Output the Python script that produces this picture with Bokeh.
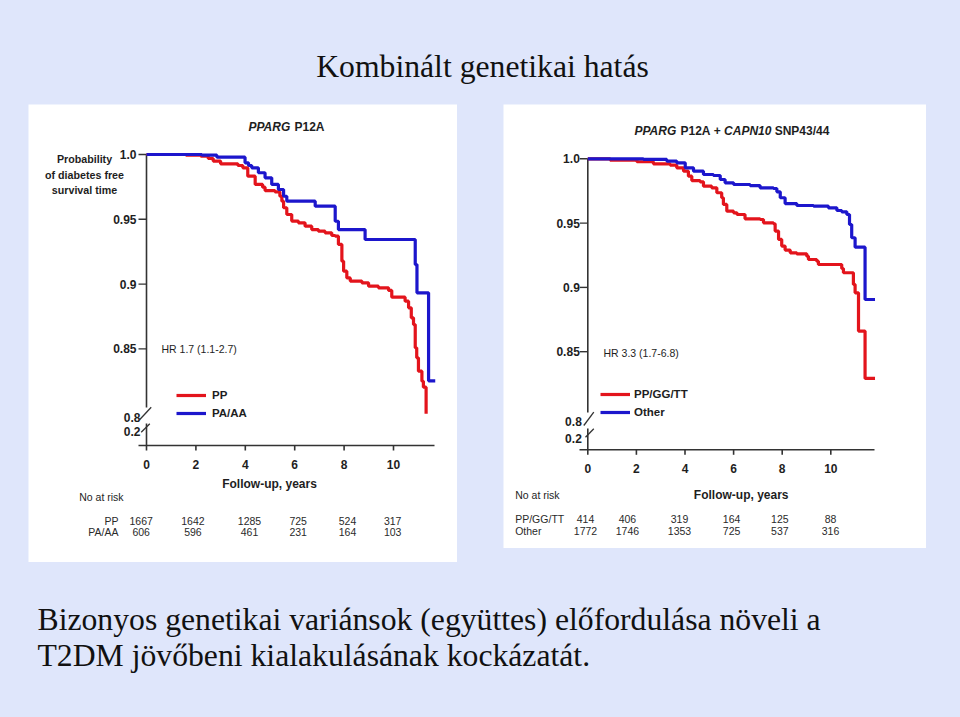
import math
from bokeh.plotting import figure
from bokeh.models import Range1d, Label, Legend, LegendItem, Spacer, ColumnDataSource
from bokeh.core.properties import value
from bokeh.layouts import column, row
from bokeh.embed import file_html
from bokeh.resources import INLINE

# ---------------- data ----------------
SLIDE_TITLE = "Kombinált genetikai hatás"
BOTTOM_LINES = ["Bizonyos genetikai variánsok (együttes) előfordulása növeli a",
                "T2DM jövőbeni kialakulásának kockázatát."]

XTICKS = [0, 2, 4, 6, 8, 10]
XTICK_LABELS = ["0", "2", "4", "6", "8", "10"]
YTICKS = [0.85, 0.9, 0.95, 1.0]
YTICK_LABELS = ["0.85", "0.9", "0.95", "1.0"]
BREAK_LABELS = ["0.8", "0.2"]
X_LABEL = "Follow-up, years"
RISK_HEADER = "No at risk"
Y_LABEL_LINES = ["Probability", "of diabetes free", "survival time"]

# Left panel: PPARG P12A
L_TITLE = [("PPARG", "bold italic"), ("P12A", "bold")]
L_HR = "HR 1.7 (1.1-2.7)"
L_GROUPS = ["PP", "PA/AA"]
L_RISK = [[1667, 1642, 1285, 725, 524, 317],
          [606, 596, 461, 231, 164, 103]]
L_PP_T = [0, 1.6, 2.2, 2.5, 2.7, 3.0, 3.7, 3.9, 4.1, 4.4, 4.7, 4.8, 5.2, 5.4, 5.48,
          5.55, 5.68, 5.88, 6.15, 6.42, 6.69, 6.96, 7.23, 7.5, 7.64, 7.77, 7.91, 7.98,
          8.11, 8.25, 8.72, 8.99, 9.39, 9.80, 9.93, 10.47, 10.61, 10.72, 10.81, 10.88,
          10.94, 11.01, 11.15, 11.21, 11.32]
L_PP_S = [1.0, .9995, .9987, .9969, .9949, .9928, .9915, .9897, .9833, .9769,
          .9748, .9722, .9712, .9678, .9640, .9589, .9537, .9486, .9473, .9447,
          .9421, .9408, .9396, .9375, .9370, .9306, .9177, .9100, .9048, .9023,
          .9010, .8984, .8971, .8951, .8899, .8868, .8817, .8740, .8688, .8508,
          .8431, .8328, .8251, .8205, .800]
L_PA_T = [0, 2.24, 2.85, 3.99, 4.13, 4.26, 4.53, 4.80, 5.07, 5.34, 5.55, 5.68, 6.83,
          7.64, 7.77, 8.85, 10.88, 10.95, 11.42, 11.69]
L_PA_S = [1.0, .9995, .9979, .9936, .9915, .9897, .9859, .9820, .9769, .9730, .9678,
          .9640, .9601, .9485, .9421, .9344, .9151, .8933, .8254, .8254]

# Right panel: PPARG P12A + CAPN10 SNP43/44
R_TITLE = [("PPARG", "bold italic"), ("P12A", "bold"), ("+", "bold"),
           ("CAPN10", "bold italic"), ("SNP43/44", "bold")]
R_HR = "HR 3.3 (1.7-6.8)"
R_GROUPS = ["PP/GG/TT", "Other"]
R_RISK = [[414, 406, 319, 164, 125, 88],
          [1772, 1746, 1353, 725, 537, 316]]
R_PG_T = [0, 0.92, 2.02, 2.70, 3.39, 3.66, 3.94, 4.14, 4.28, 4.62, 4.76, 5.10, 5.31,
          5.51, 5.58, 5.72, 6.00, 6.14, 6.47, 7.09, 7.23, 7.64, 7.71, 7.85, 7.98, 8.12,
          8.33, 8.60, 9.01, 9.08, 9.42, 9.49, 10.45, 10.52, 10.93, 11.00, 11.14, 11.41,
          11.82]
R_PG_S = [1.0, .9990, .9977, .9961, .9951, .9930, .9904, .9865, .9831, .9821, .9787,
          .9774, .9736, .9697, .9645, .9593, .9580, .9567, .9533, .9528, .9502, .9495,
          .9438, .9373, .9321, .9290, .9269, .9261, .9243, .9217, .9204, .9178, .9147,
          .9114, .9023, .8958, .8660, .8292, .8292]
R_OT_T = [0, 2.29, 3.25, 3.66, 4.01, 4.35, 4.76, 5.17, 5.45, 5.65, 6.00, 6.68, 7.09,
          7.64, 7.78, 7.92, 8.12, 8.60, 9.29, 9.90, 10.25, 10.45, 10.66, 10.77, 10.86,
          11.00, 11.41, 11.82]
R_OT_S = [1.0, .9995, .9982, .9969, .9930, .9904, .9878, .9870, .9839, .9813, .9800,
          .9792, .9774, .9769, .9743, .9697, .9652, .9637, .9632, .9619, .9598, .9588,
          .9567, .9489, .9386, .9313, .8906, .8906]

# ---------------- style ----------------
BG = "#dfe6fb"
RED = "#e3141c"
BLUE = "#1c16cc"
INK = "#1e1e1e"
AX = "#333333"
SANS = "Liberation Sans"
SERIF = "Liberation Serif"
BGS = {"background-color": BG}


def km_panel(g, curves, groups, risk, hr, title_parts, with_ylabel):
    L, T, W, H = g["box"]
    ox, ppx, oy, ppu = g["x0"], g["ppx"], g["y1"], g["ppu"]

    def X(px):
        return (px - ox) / ppx

    def Y(py):
        return 1.0 - (py - oy) / ppu

    p = figure(width=W, height=H, x_range=Range1d(X(L), X(L + W)),
               y_range=Range1d(Y(T + H), Y(T)), output_backend="svg",
               toolbar_location=None, x_axis_location=None, y_axis_location=None,
               min_border=0)
    p.background_fill_color = "white"
    p.border_fill_color = "white"
    p.outline_line_color = None
    p.grid.visible = False

    def lab(px, py, text, size, style="normal", align="left", color=INK):
        p.add_layout(Label(x=px - L, y=T + H - py, x_units="screen", y_units="screen",
                           text=text, text_font=SANS, text_font_size=size,
                           text_font_style=style, text_align=align,
                           text_baseline="middle", text_color=color))

    ay = Y(g["axis_y"])
    # x axis line, ticks and labels
    p.segment(x0=[X(g["xaxis_from"])], y0=[ay], x1=[X(g["xaxis_to"])], y1=[ay],
              line_color=AX, line_width=1.6)
    p.segment(x0=XTICKS, y0=[ay] * len(XTICKS), x1=XTICKS,
              y1=[ay - 5 / ppu] * len(XTICKS), line_color=AX, line_width=1.6)
    p.text(x=XTICKS, y=[ay] * len(XTICKS), text=XTICK_LABELS, y_offset=19,
           text_font=value(SANS), text_font_style="bold", text_font_size="12px",
           text_align="center", text_baseline="middle", text_color=INK)

    # y axis with break
    gap_top, gap_bot = Y(g["gap"][0]), Y(g["gap"][1])
    p.segment(x0=[0, 0], y0=[1.0, gap_bot], x1=[0, 0], y1=[gap_top, ay],
              line_color=AX, line_width=1.6)
    p.segment(x0=[0] * len(YTICKS), y0=YTICKS, x1=[-8 / ppx] * len(YTICKS), y1=YTICKS,
              line_color=AX, line_width=1.4)
    p.text(x=[0] * len(YTICKS), y=YTICKS, text=YTICK_LABELS, x_offset=-g["ylab_pad"],
           text_font=value(SANS), text_font_style="bold", text_font_size="12px",
           text_align="right", text_baseline="middle", text_color=INK)
    p.text(x=[0, 0], y=[Y(v) for v in g["break_lab_y"]], text=BREAK_LABELS,
           x_offset=-6, text_font=value(SANS), text_font_style="bold",
           text_font_size="12px", text_align="right", text_baseline="middle",
           text_color=INK)
    sl = g["slashes"]
    p.segment(x0=[X(s[0]) for s in sl], y0=[Y(s[1]) for s in sl],
              x1=[X(s[2]) for s in sl], y1=[Y(s[3]) for s in sl],
              line_color=AX, line_width=1.3)

    # survival curves
    rs = []
    for (t, s), col in zip(curves, [RED, BLUE]):
        rs.append(p.step(t, s, mode="after", line_width=3.2, line_color=col))

    lx, lb = g["legend"]
    leg = Legend(items=[LegendItem(label=n, renderers=[r]) for n, r in zip(groups, rs)],
                 location=(lx - L, T + H - lb), glyph_width=30, glyph_height=18,
                 label_height=18, label_standoff=g["leg_standoff"],
                 padding=0, margin=0, spacing=0, background_fill_alpha=0,
                 border_line_color=None, label_text_font=SANS,
                 label_text_font_style="bold", label_text_font_size="11.5px",
                 label_text_color=INK)
    p.add_layout(leg)

    # title pieces
    for (txt, st), xx in zip(title_parts, g["title_x"]):
        lab(xx, g["title_y"], txt, "12px", st)

    lab(*g["hr"], hr, "10.5px")
    lab(*g["xlab"], X_LABEL, "12px", "bold", align="center")
    lab(*g["risk_head"], RISK_HEADER, "10.5px")
    if with_ylabel:
        for (px, py), line in zip(g["ylabel"], Y_LABEL_LINES):
            lab(px, py, line, "10.7px", "bold", align="center")

    # numbers at risk
    for n, vals, off in zip(groups, risk, g["risk_dy"]):
        src = ColumnDataSource(dict(x=XTICKS, y=[ay] * len(XTICKS),
                                    t=[str(v) for v in vals], dx=g["risk_dx"]))
        p.text(x="x", y="y", text="t", x_offset="dx", y_offset=off, source=src,
               text_font=value(SANS), text_font_size="10.5px", text_align="center",
               text_baseline="middle", text_color="#2a2a2a")
        p.text(x=[X(g["risk_name_x"])], y=[ay], text=[n], y_offset=off,
               text_font=value(SANS), text_font_size="10.5px",
               text_align=g["risk_name_align"], text_baseline="middle",
               text_color="#2a2a2a")
    return p


LEFT_GEOM = dict(
    box=(28, 104, 429, 458), x0=146, ppx=24.7, y1=154, ppu=1296,
    axis_y=445, xaxis_from=138, xaxis_to=434, gap=(407, 423), ylab_pad=10,
    break_lab_y=[416.7, 431], slashes=[(139.3, 419, 150.7, 406.7), (140.7, 431.7, 149.3, 423.3)],
    legend=(176, 422), leg_standoff=6,
    title_x=[248, 294], title_y=126.7,
    hr=(161, 348), xlab=(269, 483), risk_head=(78.7, 496),
    ylabel=[(84, 158), (84, 174), (84, 189)],
    risk_dy=[75, 86.7], risk_dx=[-5.3, -3, 4.2, 3.5, 3.4, -0.8],
    risk_name_x=118, risk_name_align="right")

RIGHT_GEOM = dict(
    box=(503, 104, 423, 444), x0=587.3, ppx=24.3, y1=158.3, ppu=1286,
    axis_y=449.3, xaxis_from=579, xaxis_to=874, gap=(412, 428), ylab_pad=8,
    break_lab_y=[421, 438.3], slashes=[(583.3, 425, 593.3, 411.7), (585, 436.7, 593.3, 428.3)],
    legend=(600, 421), leg_standoff=4,
    title_x=[634, 680, 713.3, 723.6, 774.2], title_y=130,
    hr=(603, 352), xlab=(740.7, 494), risk_head=(514.7, 494),
    ylabel=[],
    risk_dy=[69, 80.7], risk_dx=[-2.3, -9, -5.5, -2, -2.4, -0.3],
    risk_name_x=514.7, risk_name_align="left")

left = km_panel(LEFT_GEOM, [(L_PP_T, L_PP_S), (L_PA_T, L_PA_S)], L_GROUPS, L_RISK,
                L_HR, L_TITLE, True)
right = km_panel(RIGHT_GEOM, [(R_PG_T, R_PG_S), (R_OT_T, R_OT_S)], R_GROUPS, R_RISK,
                 R_HR, R_TITLE, False)


def text_fig(w, h):
    f = figure(width=w, height=h, x_range=Range1d(0, 1), y_range=Range1d(0, 1),
               output_backend="svg", toolbar_location=None,
               x_axis_location=None, y_axis_location=None, min_border=0)
    f.background_fill_color = BG
    f.border_fill_color = BG
    f.outline_line_color = None
    f.grid.visible = False
    return f


top = text_fig(960, 104)
top.add_layout(Label(x=482, y=38, x_units="screen", y_units="screen", text=SLIDE_TITLE,
                     text_font=SERIF, text_font_size="31.7px", text_align="center",
                     text_baseline="alphabetic", text_color="#111111"))

bottom = text_fig(960, 155)
for yy, line in zip([98, 62], BOTTOM_LINES):
    bottom.add_layout(Label(x=37, y=yy, x_units="screen", y_units="screen", text=line,
                            text_font=SERIF, text_font_size="31.7px",
                            text_baseline="alphabetic", text_color="#111111"))

mid = row(Spacer(width=28, height=458, styles=BGS), left,
          Spacer(width=46, height=458, styles=BGS),
          column(right, Spacer(width=423, height=14, styles=BGS), styles=BGS),
          Spacer(width=34, height=458, styles=BGS), styles=BGS)
page = column(top, mid, bottom, styles=BGS)

open("out.html", "w").write(file_html(page, INLINE))
